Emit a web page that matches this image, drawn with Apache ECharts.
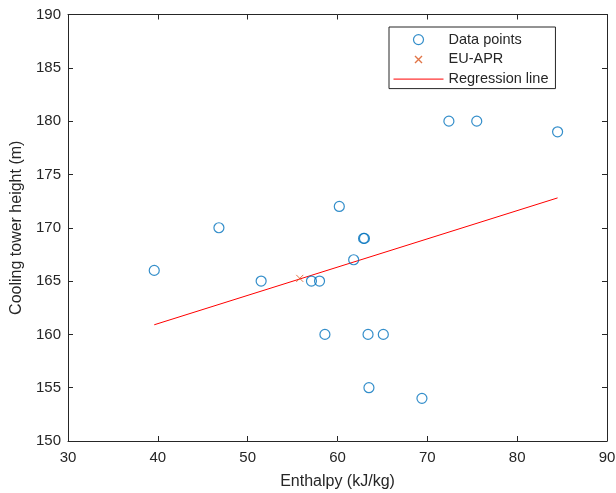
<!DOCTYPE html>
<html>
<head>
<meta charset="utf-8">
<script src="https://cdn.jsdelivr.net/npm/echarts@6/dist/echarts.min.js"></script>
<style>html,body{margin:0;padding:0;background:#fff;}#c{width:616px;height:493px;}</style>
</head>
<body>
<div id="c"></div>
<script>
const dataX = [39.6, 46.8, 51.5, 57.1, 58.0, 60.2, 61.8, 62.9, 63.0, 58.6, 63.4, 65.1, 63.5, 69.4, 72.4, 75.5, 84.5];
const dataY = [166, 170, 165, 165, 165, 172, 167, 169, 169, 160, 160, 160, 155, 154, 180, 180, 179];
const euX = [55.8];
const euY = [165.25];
const regX = [39.6, 84.5];
const regY = [160.9, 172.8];
const xTicks = [30, 40, 50, 60, 70, 80, 90];
const yTicks = [150, 155, 160, 165, 170, 175, 180, 185, 190];

const zip = (a, b) => a.map((v, i) => [v, b[i]]);
const axisCol = '#262626';
const font = 'Liberation Sans, Arial, Helvetica, sans-serif';
const blue = '#0072BD', orange = '#D95319', red = '#FF0000';

const baseX = {
  type: 'value', min: xTicks[0], max: xTicks[xTicks.length - 1], interval: 10,
  splitLine: { show: false },
  axisLine: { show: true, lineStyle: { color: axisCol, width: 1 } },
  axisTick: { show: true, inside: true, length: 5, lineStyle: { color: axisCol } }
};
const baseY = {
  type: 'value', min: yTicks[0], max: yTicks[yTicks.length - 1], interval: 5,
  splitLine: { show: false },
  axisLine: { show: true, lineStyle: { color: axisCol, width: 1 } },
  axisTick: { show: true, inside: true, length: 5, lineStyle: { color: axisCol } }
};

const chart = echarts.init(document.getElementById('c'), null, { renderer: 'canvas' });
chart.setOption({
  animation: false,
  backgroundColor: '#fff',
  grid: { left: 68, right: 9, top: 14.5, bottom: 52, containLabel: false, outerBoundsMode: 'none' },
  xAxis: [
    Object.assign({}, baseX, {
      position: 'bottom',
      name: 'Enthalpy (kJ/kg)', nameLocation: 'middle', nameGap: 33,
      nameTextStyle: { color: axisCol, fontSize: 16, fontFamily: font },
      axisLabel: { color: axisCol, fontSize: 15, fontFamily: font, margin: 9 }
    }),
    Object.assign({}, baseX, { position: 'top', axisLabel: { show: false } })
  ],
  yAxis: [
    Object.assign({}, baseY, {
      position: 'left',
      name: 'Cooling tower height (m)', nameLocation: 'middle', nameGap: 42,
      nameTextStyle: { color: axisCol, fontSize: 16, fontFamily: font },
      axisLabel: { color: axisCol, fontSize: 15, fontFamily: font, margin: 7 }
    }),
    Object.assign({}, baseY, { position: 'right', axisLabel: { show: false } })
  ],
  legend: {
    orient: 'vertical', left: 389, top: 27,
    padding: [5, 7, 2, 4], itemGap: 4.5, itemWidth: 50, itemHeight: 14,
    borderColor: axisCol, borderWidth: 1, backgroundColor: '#fff',
    symbolKeepAspect: true,
    textStyle: { color: axisCol, fontSize: 14.5, fontFamily: font, lineHeight: 14 },
    data: [
      { name: 'Data points',
        icon: 'path://M-2,-2M12,12M10,5A5,5,0,1,1,0,5A5,5,0,1,1,10,5Z',
        itemStyle: { color: 'rgba(255,255,255,0)', borderColor: blue, borderWidth: 1.2 } },
      { name: 'EU-APR',
        icon: 'path://M-5,-5M15,15M0,0L10,10M10,0L0,10',
        itemStyle: { color: 'rgba(255,255,255,0)', borderColor: orange, borderWidth: 1.4 } },
      { name: 'Regression line',
        icon: 'path://M0,-7M0,7M0,0L50,0',
        itemStyle: { color: 'rgba(255,255,255,0)', borderColor: red, borderWidth: 1 } }
    ]
  },
  series: [
    {
      name: 'Data points', type: 'scatter', xAxisIndex: 0, yAxisIndex: 0,
      symbol: 'circle', symbolSize: 10,
      itemStyle: { color: 'rgba(255,255,255,0)', borderColor: blue, borderWidth: 1.2 },
      data: zip(dataX, dataY), z: 3
    },
    {
      name: 'EU-APR', type: 'scatter', xAxisIndex: 0, yAxisIndex: 0,
      symbol: 'path://M0,0L10,10M10,0L0,10', symbolSize: 7, symbolKeepAspect: true,
      itemStyle: { color: 'rgba(255,255,255,0)', borderColor: orange, borderWidth: 1 },
      data: zip(euX, euY), z: 4
    },
    {
      name: 'Regression line', type: 'line', xAxisIndex: 0, yAxisIndex: 0,
      symbol: 'none', showSymbol: false,
      itemStyle: { color: red },
      lineStyle: { color: red, width: 1 },
      data: zip(regX, regY), z: 2
    }
  ]
});
</script>
</body>
</html>
